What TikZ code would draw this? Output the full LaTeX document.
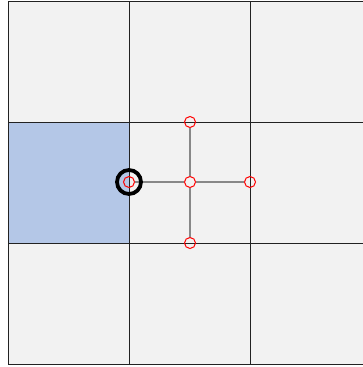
\documentclass[tikz,border=0pt]{standalone}
\definecolor{cellgray}{RGB}{242,242,242}
\definecolor{gridc}{RGB}{34,34,34}
\definecolor{bluecell}{RGB}{180,199,231}
\definecolor{linkc}{RGB}{136,136,136}
\begin{document}
\begin{tikzpicture}[x=1pt,y=-1pt,
  cellbg/.style={fill=cellgray},
  gridline/.style={draw=gridc,line width=0.9pt},
  pt/.style={circle,draw=red,line width=1pt,minimum size=11pt,inner sep=0pt},
  link/.style={draw=linkc,line width=1.5pt},
  sel/.style={circle,draw=black,line width=3.8pt,minimum size=24pt,inner sep=0pt}]
\useasboundingbox (0,0) rectangle (363,367);
\clip (0,0) rectangle (363,367);
\fill[white] (0,0) rectangle (363,367);
\path[cellbg] (8,1) rectangle (371,364);
\fill[bluecell] (8,122) rectangle (129,243);
\foreach \x in {8,129,250,371} \draw[gridline] (\x,1) -- (\x,364);
\foreach \y in {1,122,243,364} \draw[gridline] (8,\y) -- (371,\y);
\node[pt] (l) at (129,182) {};
\node[pt] (c) at (190,182) {};
\node[pt] (r) at (250,182) {};
\node[pt] (t) at (190,122) {};
\node[pt] (b) at (190,243) {};
\draw[link] (l) -- (c);
\draw[link] (c) -- (r);
\draw[link] (t) -- (c);
\draw[link] (c) -- (b);
\node[sel] (s) at (129,182) {};
\end{tikzpicture}
\end{document}
